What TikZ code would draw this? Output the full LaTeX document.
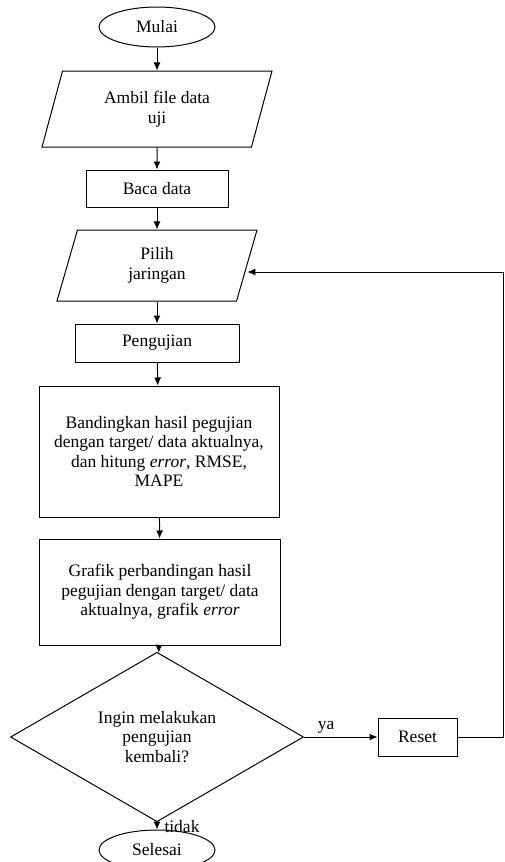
\documentclass[tikz,border=0pt]{standalone}
\usepackage{fontspec}
\setmainfont{Liberation Serif}
\usetikzlibrary{shapes.geometric,arrows.meta,positioning,calc}

\begin{document}
\begin{tikzpicture}[x=1pt, y=-1pt,
    >={Latex[length=8pt,width=7pt]},
    every node/.style={font=\fontsize{17.5}{19.5}\selectfont},
    terminal/.style={ellipse, draw, line width=1pt, minimum width=116pt,
                     minimum height=40pt, inner sep=0pt},
    io/.style={trapezium, trapezium left angle=60, trapezium right angle=120,
               trapezium stretches body, draw, line width=1pt, align=center, inner sep=0pt},
    proses/.style={rectangle, draw, line width=1pt, align=center, inner sep=0pt},
    pilihan/.style={diamond, draw, line width=1pt, align=center, inner sep=0pt},
    garis/.style={->, line width=1pt},
]
\useasboundingbox (0,0) rectangle (504,862);

% Alur utama
\node[terminal] (mulai) at (157, 27) {Mulai};
\node[io, minimum width=230pt, minimum height=76pt] (ambil) at (157, 109) {Ambil file data\\uji};
\node[proses, minimum width=142pt, minimum height=37pt] (baca) at (157, 188.5) {Baca data};
\node[io, minimum width=200pt, minimum height=71pt] (pilih) at (157, 265.5) {Pilih\\jaringan};
\node[proses, minimum width=164pt, minimum height=38pt] (uji) at (157, 343) {Pengujian};
\node[proses, minimum width=240pt, minimum height=131pt] (banding) at (159, 451.5)
    {Bandingkan hasil pegujian\\dengan target/ data aktualnya,\\dan hitung \textit{error}, RMSE,\\MAPE};
\node[proses, minimum width=241pt, minimum height=106pt] (grafik) at (160, 592)
    {Grafik perbandingan hasil\\pegujian dengan target/ data\\aktualnya, grafik \textit{error}};
\node[pilihan, minimum width=293pt, minimum height=136pt] (tanya) at (157, 737)
    {Ingin melakukan\\pengujian\\kembali?};
\node[proses, minimum width=79pt, minimum height=38pt] (reset) at (417.5, 737) {Reset};
\node[terminal] (selesai) at (157, 850) {Selesai};

% Titik belok untuk kembali
\coordinate (balikA) at (503, 737);
\coordinate (balikB) at (503, 272);

% Panah
\foreach \a/\b in {mulai/ambil, ambil/baca, baca/pilih, pilih/uji, uji/banding, banding/grafik, grafik/tanya} {
    \draw[garis] (\a) -- (\b);
}
\draw[garis] (tanya) -- node[pos=0.3, above] {ya} (reset);
\draw[garis] (tanya) -- node[right, xshift=7pt, yshift=-1pt, inner sep=0pt] {tidak} (selesai);
\draw[garis] (reset) -- (balikA) -- (balikB) -- (balikB -| pilih.east);

\end{tikzpicture}
\end{document}
